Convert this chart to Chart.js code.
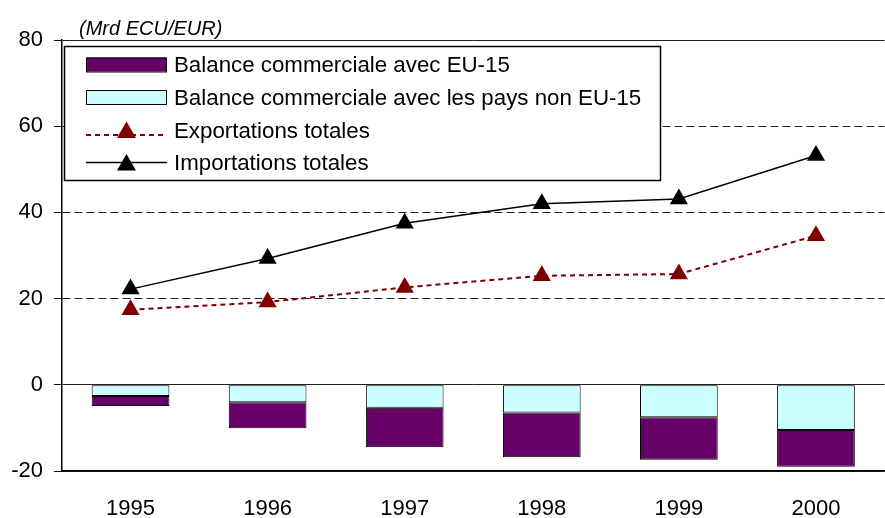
<!DOCTYPE html>
<html>
<head>
<meta charset="utf-8">
<script src="https://cdn.jsdelivr.net/npm/chart.js@4/dist/chart.umd.min.js"></script>
<style>
  html, body { margin: 0; padding: 0; background: #fff; overflow: hidden; }
  #wrap { width: 885px; height: 518px; overflow: hidden; }
</style>
</head>
<body>
<div id="wrap"><canvas id="chart" width="895" height="518" style="width:895px;height:518px"></canvas></div>
<script>
// data
const years = ['1995', '1996', '1997', '1998', '1999', '2000'];
const balanceNonEU = [-2.6, -4.05, -5.3, -6.4, -7.5, -10.5];   // balance with non EU-15 countries
const balanceEU = [-2.3, -6.05, -9.2, -10.4, -9.9, -8.5];       // balance with EU-15
const exportsTotal = [17.4, 19.2, 22.6, 25.3, 25.7, 34.6];
const importsTotal = [22.2, 29.3, 37.5, 42.0, 43.1, 53.2];
const yTicks = [-20, 0, 20, 40, 60, 80];
const dashedAt = [20, 40, 60];
const unitLabel = '(Mrd ECU/EUR)';
const labels = {
    eu: 'Balance commerciale avec EU-15',
    nonEu: 'Balance commerciale avec les pays non EU-15',
    exp: 'Exportations totales',
    imp: 'Importations totales'
};

const FONT = '"Liberation Sans", Arial, sans-serif';

// legend drawn as a framed box inside the plot, like the original
const legendBox = {
    id: 'legendBox',
    afterDraw(chart) {
        const ctx = chart.ctx;
        const ds = chart.data.datasets;
        ctx.save();

        ctx.fillStyle = '#000';
        ctx.font = 'italic 20px ' + FONT;
        ctx.textBaseline = 'alphabetic';
        ctx.fillText(unitLabel, 79, 35);

        ctx.fillStyle = '#fff';
        ctx.fillRect(64.5, 46.5, 596, 134);
        ctx.lineWidth = 1.5;
        ctx.strokeStyle = '#000';
        ctx.strokeRect(64.5, 46.5, 596, 134);

        const rows = [64.5, 97, 130, 162.5];
        const order = [1, 0, 2, 3]; // legend order: EU, non EU, exports, imports
        order.forEach(function (idx, i) {
            const d = ds[idx];
            const cy = rows[i];
            if (d.type === 'line') {
                const ly = idx === 2 ? cy + 5 : cy;
                ctx.save();
                ctx.strokeStyle = d.borderColor;
                ctx.lineWidth = d.borderWidth;
                ctx.setLineDash(d.borderDash || []);
                ctx.beginPath();
                ctx.moveTo(86, ly);
                ctx.lineTo(167, ly);
                ctx.stroke();
                ctx.restore();
                ctx.fillStyle = d.pointBackgroundColor;
                ctx.strokeStyle = d.pointBorderColor;
                Chart.helpers.drawPoint(ctx, { pointStyle: 'triangle', radius: 11, rotation: 0, borderWidth: 0 }, 126.5, cy + 2.5);
            } else {
                ctx.fillStyle = d.backgroundColor;
                ctx.fillRect(86, cy - 7, 80, 14);
                ctx.lineWidth = 1;
                ctx.strokeStyle = '#000';
                ctx.strokeRect(86.5, cy - 6.5, 80, 14);
            }
            ctx.fillStyle = '#000';
            ctx.font = '22.3px ' + FONT;
            ctx.textBaseline = 'alphabetic';
            ctx.fillText(d.label, 174, cy + 7.5);
        });
        ctx.restore();
    }
};

new Chart(document.getElementById('chart'), {
    type: 'bar',
    data: {
        labels: years,
        datasets: [
            {
                label: labels.nonEu,
                data: balanceNonEU,
                backgroundColor: '#CCFFFF',
                borderColor: '#000',
                borderWidth: 1,
                borderSkipped: false,
                stack: 'balance',
                barPercentage: 0.567,
                categoryPercentage: 1,
                order: 2
            },
            {
                label: labels.eu,
                data: balanceEU,
                backgroundColor: '#660066',
                borderColor: '#000',
                borderWidth: 1,
                borderSkipped: false,
                stack: 'balance',
                barPercentage: 0.567,
                categoryPercentage: 1,
                order: 2
            },
            {
                type: 'line',
                label: labels.exp,
                data: exportsTotal,
                borderColor: '#800000',
                borderWidth: 2,
                borderDash: [5, 4],
                pointStyle: 'triangle',
                pointRadius: 10.5,
                pointBorderWidth: 0,
                pointBackgroundColor: '#800000',
                pointBorderColor: '#800000',
                tension: 0,
                fill: false,
                stack: 'exp',
                order: 0
            },
            {
                type: 'line',
                label: labels.imp,
                data: importsTotal,
                borderColor: '#000',
                borderWidth: 1.5,
                pointStyle: 'triangle',
                pointRadius: 10.5,
                pointBorderWidth: 0,
                pointBackgroundColor: '#000',
                pointBorderColor: '#000',
                tension: 0,
                fill: false,
                stack: 'imp',
                order: 1
            }
        ]
    },
    options: {
        responsive: false,
        animation: false,
        devicePixelRatio: 1,
        layout: { padding: { top: 40, right: 1, left: 0, bottom: 0 } },
        plugins: {
            legend: { display: false },
            tooltip: { enabled: false }
        },
        scales: {
            x: {
                stacked: true,
                offset: true,
                grid: { display: false, drawTicks: false },
                border: { display: true, color: '#000', width: 1.5 },
                ticks: { color: '#000', font: { family: FONT, size: 22 }, padding: 25 },
                afterFit: function (s) { s.height = 47; }
            },
            y: {
                stacked: true,
                min: -20,
                max: 80,
                afterBuildTicks: function (s) { s.ticks = yTicks.map(v => ({ value: v })); },
                ticks: { color: '#000', font: { family: FONT, size: 22 }, padding: 11 },
                grid: { color: '#222', lineWidth: 1, drawTicks: true, tickLength: 8, tickColor: '#000' },
                border: {
                    display: true,
                    color: '#000',
                    width: 1.5,
                    dash: function (c) {
                        return (c.tick && dashedAt.includes(c.tick.value)) ? [8, 4] : [];
                    }
                },
                afterFit: function (s) { s.width = 62; }
            }
        }
    },
    plugins: [legendBox]
});
</script>
</body>
</html>
